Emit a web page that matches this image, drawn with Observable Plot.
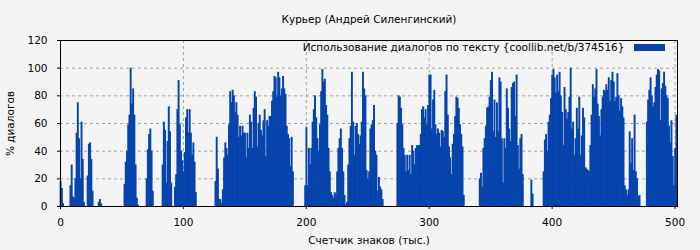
<!DOCTYPE html>
<html>
<head>
<meta charset="utf-8">
<script src="https://cdn.jsdelivr.net/npm/d3@7"></script>
<script src="https://cdn.jsdelivr.net/npm/@observablehq/plot@0.6"></script>
<style>
  html, body { margin: 0; padding: 0; background: #f4f4f4; }
  #chart { width: 700px; height: 250px; }
</style>
</head>
<body>
<div id="chart"></div>
<script>
const chartTitle = "Курьер (Андрей Силенгинский)";
const legendLabel = "Использование диалогов по тексту {coollib.net/b/374516}";
const xLabel = "Счетчик знаков (тыс.)";
const yLabel = "% диалогов";
const xTicks = [0, 100, 200, 300, 400, 500];
const yTicks = [0, 20, 40, 60, 80, 100, 120];

// % dialogue per thousand characters
const pct000 = [
  18,13,2,0,0,0,0,0,15,30,
  7,6,20,53,75,49,20,61,34,3,
  0,0,22,45,46,34,11,0,0,0,
  0,3,5,2,0,0,0,0,0,0,
  0,0,0,0,0,0,0,0,0,0,
  0,0,16,32,40,59,66,100,74,85,
  66,30,6,1,0,0,0,0,0,0,
  20,41,52,56,40,11,0,0,0,0,
  0,0,0,30,61,55,17,47,72,54,
  17,0,0,14,23,70,91,59,40,33
];
const pct100 = [
  25,39,64,70,53,70,53,37,46,32,
  10,0,0,0,0,0,0,0,0,0,
  0,0,0,0,0,0,18,50,27,5,
  5,2,12,35,46,42,37,59,83,75,
  84,80,68,75,66,50,58,51,58,53,
  53,35,53,42,66,61,42,71,83,79,
  43,60,66,55,51,62,70,36,62,58,
  65,65,76,83,94,93,79,97,93,80,
  85,94,85,81,58,52,49,29,50,25,
  0,0,0,0,0,0,0,0,0,15
];
const pct200 = [
  57,15,42,30,42,61,70,80,64,49,
  40,59,83,99,90,92,73,66,42,25,
  10,8,6,10,9,25,42,49,56,42,
  25,8,1,3,30,49,58,97,61,37,
  58,60,52,45,51,61,97,85,80,26,
  20,25,56,59,62,73,40,37,11,21,
  14,12,5,0,0,0,0,0,0,0,
  0,0,0,0,60,80,79,71,59,42,
  37,25,37,26,37,23,44,40,30,42,
  44,44,44,52,70,72,64,70,59,73
];
const pct300 = [
  95,95,56,77,84,59,52,56,53,43,
  55,54,50,83,95,66,43,35,23,45,
  52,65,79,78,71,59,52,43,8,0,
  0,0,0,0,0,0,0,0,0,0,
  0,20,24,14,42,49,58,71,72,79,
  91,97,54,77,50,75,54,93,90,49,
  17,49,42,85,71,56,47,86,89,90,
  65,95,44,27,49,52,23,0,0,0,
  0,0,0,19,9,0,0,0,0,0,
  0,0,0,25,48,52,40,61,66,78
];
const pct400 = [
  95,99,93,82,95,83,97,80,68,44,
  86,70,63,68,79,100,56,61,37,49,
  71,56,79,37,51,71,64,28,27,26,
  25,44,66,88,79,85,99,74,65,51,
  70,79,84,83,88,84,93,76,91,97,
  90,76,79,96,80,69,78,72,64,15,
  12,8,12,54,31,49,26,66,25,20,
  7,8,0,0,0,0,0,61,77,84,
  93,80,72,75,86,95,99,98,62,85,
  89,97,87,80,78,58,46,62,36,15,
  42,66
];

const values = [...pct000, ...pct100, ...pct200, ...pct300, ...pct400];
const bars = values.map((v, i) => ({start: i, end: i + 1, v})).filter(d => d.v > 0);

const barColor = "#0544ac";
const gridStyle = {stroke: "#a0a0a0", strokeOpacity: 1, strokeDasharray: "3,3", strokeWidth: 1};

const legendSwatch = (index, scales, values, dimensions) => {
  const {width, marginRight, marginTop} = dimensions;
  const r = d3.create("svg:rect")
    .attr("x", width - marginRight - 43)
    .attr("y", marginTop + 4)
    .attr("width", 31)
    .attr("height", 7)
    .attr("fill", barColor);
  return r.node();
};

const chart = Plot.plot({
  width: 700,
  height: 250,
  marginLeft: 60,
  marginRight: 23,
  marginTop: 40,
  marginBottom: 44,
  style: {background: "#f4f4f4", fontFamily: "DejaVu Sans", fontSize: "10.5px", color: "#000"},
  x: {domain: [0, 502]},
  y: {domain: [0, 120]},
  marks: [
    Plot.gridX([100, 200, 300, 400, 500], gridStyle),
    Plot.gridY([20, 40, 60, 80, 100], gridStyle),
    Plot.rectY(bars, {x1: "start", x2: "end", y: "v", fill: barColor, insetLeft: -0.35, insetRight: -0.35}),
    Plot.frame({stroke: "#000", strokeWidth: 1}),
    Plot.axisX(xTicks, {tickSize: 3, tickPadding: 9, label: null, stroke: "#000", fill: "#000"}),
    Plot.axisY(yTicks, {tickSize: 3, tickPadding: 10, label: null, stroke: "#000", fill: "#000"}),
    Plot.text([chartTitle], {frameAnchor: "top", dy: -21, lineAnchor: "middle", fill: "#000"}),
    Plot.text([xLabel], {frameAnchor: "bottom", dy: 34, lineAnchor: "middle", fill: "#000"}),
    Plot.text([yLabel], {frameAnchor: "left", dx: -50, rotate: -90, textAnchor: "middle", lineAnchor: "middle", fill: "#000"}),
    Plot.text([legendLabel], {frameAnchor: "top-right", dx: -53, dy: 7, textAnchor: "end", lineAnchor: "middle", fill: "#000"}),
    legendSwatch
  ]
});
document.getElementById("chart").appendChild(chart);
</script>
</body>
</html>
